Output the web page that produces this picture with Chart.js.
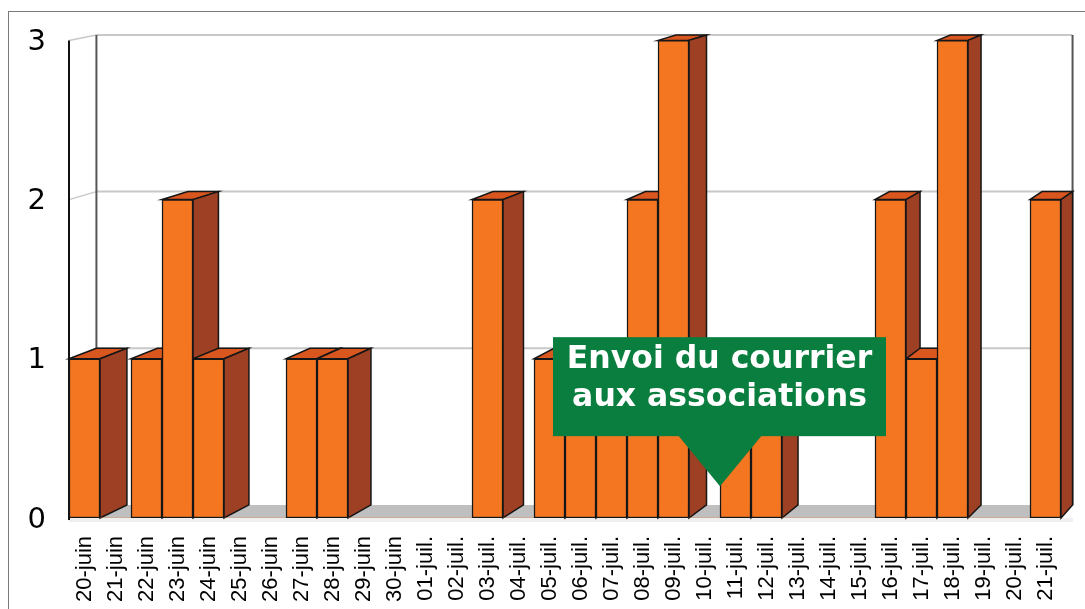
<!DOCTYPE html>
<html lang="fr">
<head>
<meta charset="utf-8">
<title>Courriers par jour</title>
<script src="https://cdn.jsdelivr.net/npm/chart.js@4.4.1/dist/chart.umd.min.js"></script>
<style>
  html, body { margin: 0; padding: 0; background: #fff; }
  #wrap { width: 1085px; height: 609px; }
</style>
</head>
<body>
<div id="wrap"><canvas id="courrierChart" width="1085" height="609"></canvas></div>
<script>
const days = [
  '20-juin', '21-juin', '22-juin', '23-juin', '24-juin', '25-juin', '26-juin', '27-juin',
  '28-juin', '29-juin', '30-juin', '01-juil.', '02-juil.', '03-juil.', '04-juil.', '05-juil.',
  '06-juil.', '07-juil.', '08-juil.', '09-juil.', '10-juil.', '11-juil.', '12-juil.', '13-juil.',
  '14-juil.', '15-juil.', '16-juil.', '17-juil.', '18-juil.', '19-juil.', '20-juil.', '21-juil.'
];
const counts = [1, 0, 1, 2, 1, 0, 0, 1, 1, 0, 0, 0, 0, 2, 0, 1, 1, 1, 2, 3, 0, 1, 1, 0, 0, 0, 2, 1, 3, 0, 0, 2];
const yTicks = [0, 1, 2, 3];
const noteLines = ['Envoi du courrier', 'aux associations'];
const noteAt = [20.5, 0.2]; // between 10 and 11 juil., just above the floor

const front = '#f47621';
const side = '#9e4023';
const top3d = '#d9561f';
const edge = '#161616';

// perspective: back plane = front plane scaled toward a vanishing point
const VX = 1783, VY = -300, S = 0.984;
const back = (x, y) => [VX + S * (x - VX), VY + S * (y - VY)];

function quad(ctx, pts, fill) {
  ctx.beginPath();
  ctx.moveTo(pts[0][0], pts[0][1]);
  pts.slice(1).forEach(p => ctx.lineTo(p[0], p[1]));
  ctx.closePath();
  ctx.fillStyle = fill;
  ctx.fill();
  ctx.lineWidth = 1.5;
  ctx.strokeStyle = edge;
  ctx.stroke();
}

const scene3d = {
  id: 'scene3d',
  beforeDraw(chart) {
    const { ctx, chartArea: a, scales: { y } } = chart;
    ctx.save();
    // outer frame
    ctx.strokeStyle = '#7a7a7a';
    ctx.lineWidth = 1;
    ctx.strokeRect(8.5, 11.5, 1300, 800);

    // floor
    const fl = [[a.left, a.bottom], [a.right, a.bottom], back(a.right, a.bottom), back(a.left, a.bottom)];
    ctx.fillStyle = '#efefef';
    ctx.fillRect(a.left, a.bottom, a.right - a.left + 12, 4);
    ctx.beginPath();
    fl.forEach((p, i) => i ? ctx.lineTo(p[0], p[1]) : ctx.moveTo(p[0], p[1]));
    ctx.closePath();
    ctx.fillStyle = '#bfbfbf';
    ctx.fill();

    // back wall grid
    yTicks.filter(v => v > 0).forEach(v => {
      const py = y.getPixelForValue(v);
      const l = back(a.left, py), r = back(a.right, py);
      ctx.strokeStyle = '#c8c8c8';
      ctx.lineWidth = 2;
      ctx.beginPath(); ctx.moveTo(l[0], l[1]); ctx.lineTo(r[0], r[1]); ctx.stroke();
      ctx.lineWidth = 1.5;
      ctx.beginPath(); ctx.moveTo(a.left, py); ctx.lineTo(l[0], l[1]); ctx.stroke();
    });
    ctx.strokeStyle = '#555';
    ctx.lineWidth = 2;
    [a.left, a.right].forEach(x => {
      const t = back(x, a.top), b = back(x, a.bottom);
      ctx.beginPath(); ctx.moveTo(t[0], t[1]); ctx.lineTo(b[0], b[1]); ctx.stroke();
    });
    // front axis
    ctx.strokeStyle = '#111';
    ctx.beginPath(); ctx.moveTo(a.left, a.top); ctx.lineTo(a.left, a.bottom + 2); ctx.stroke();
    ctx.restore();
  },
  beforeDatasetsDraw(chart) {
    const { ctx } = chart;
    ctx.save();
    chart.getDatasetMeta(0).data.forEach((bar, i) => {
      if (!counts[i]) return;
      const l = bar.x - bar.width / 2, r = bar.x + bar.width / 2;
      const t = bar.y, b = bar.base;
      quad(ctx, [[l, t], [r, t], back(r, t), back(l, t)], top3d);
      quad(ctx, [[r, t], [r, b], back(r, b), back(r, t)], side);
    });
    ctx.restore();
  },
  afterDatasetsDraw(chart) {
    const { ctx, scales: { x, y } } = chart;
    const tipX = (x.getPixelForValue(Math.floor(noteAt[0])) + x.getPixelForValue(Math.ceil(noteAt[0]))) / 2;
    const tipY = y.getPixelForValue(noteAt[1]);
    const w = 333, h = 99, boxBottom = tipY - 50;
    const boxLeft = tipX - w / 2 - 0.5, boxTop = boxBottom - h;
    ctx.save();
    ctx.fillStyle = '#0a7e3e';
    ctx.fillRect(boxLeft, boxTop, w, h);
    ctx.beginPath();
    ctx.moveTo(tipX - 42, boxBottom - 1);
    ctx.lineTo(tipX + 42, boxBottom - 1);
    ctx.lineTo(tipX, tipY);
    ctx.closePath();
    ctx.fill();
    ctx.fillStyle = '#fff';
    ctx.font = 'bold 31.5px "DejaVu Sans", Verdana, sans-serif';
    ctx.textAlign = 'center';
    ctx.textBaseline = 'alphabetic';
    noteLines.forEach((line, k) => ctx.fillText(line, boxLeft + w / 2, boxTop + 31 + k * 38));
    ctx.restore();
  }
};

new Chart(document.getElementById('courrierChart'), {
  type: 'bar',
  data: {
    labels: days,
    datasets: [{
      label: 'Courriers',
      data: counts,
      backgroundColor: front,
      borderColor: edge,
      borderWidth: ctx => (ctx.raw > 0 ? 1.5 : 0),
      borderSkipped: false,
      barPercentage: 1,
      categoryPercentage: 1
    }]
  },
  options: {
    responsive: false,
    animation: false,
    layout: { padding: { left: 0, right: 24, top: 40, bottom: 0 } },
    plugins: { legend: { display: false }, tooltip: { enabled: false } },
    scales: {
      x: {
        grid: { display: false, drawTicks: false },
        border: { display: false },
        afterFit: s => { s.height = 91; s.paddingLeft = 0; s.paddingRight = 0; },
        ticks: {
          autoSkip: false,
          maxRotation: 90,
          minRotation: 90,
          padding: 18,
          color: '#000',
          font: { family: '"Liberation Sans", Arial, sans-serif', size: 22 }
        }
      },
      y: {
        min: 0,
        max: 3,
        grid: { display: false, drawTicks: false },
        border: { display: false },
        afterFit: s => { s.width = 69; },
        afterBuildTicks: s => { s.ticks = yTicks.map(v => ({ value: v })); },
        ticks: {
          padding: 23,
          labelOffset: 2,
          color: '#000',
          font: { family: '"DejaVu Sans", Verdana, sans-serif', size: 29 }
        }
      }
    }
  },
  plugins: [scene3d]
});
</script>
</body>
</html>
